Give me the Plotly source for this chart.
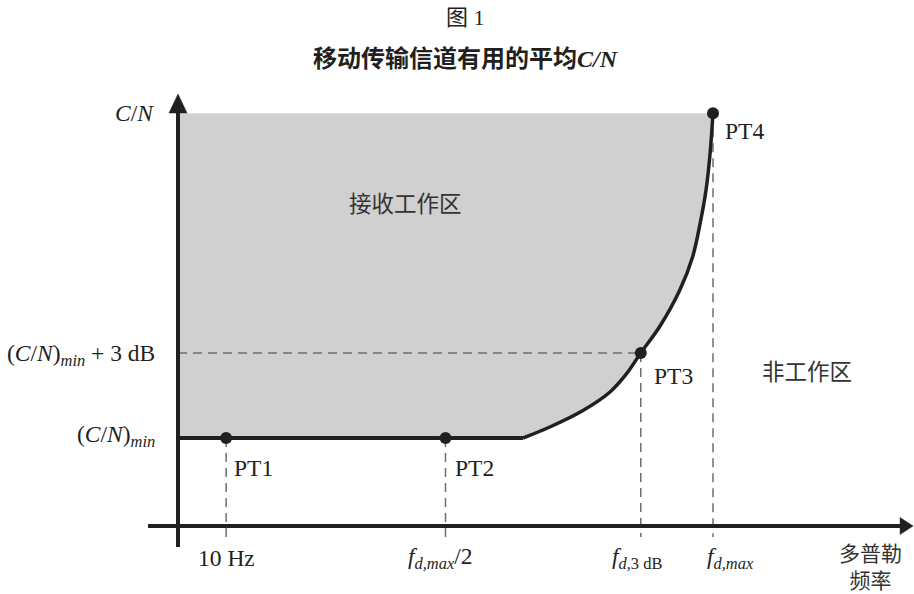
import plotly.graph_objects as go

# ---------------- data (conceptual units) ----------------
# x: Doppler frequency relative to f_d,max ; y: C/N in units of (C/N)min
tick_x = [0.09, 0.5, 0.865, 1.0]
tick_labels = ["10 Hz",
               "<i>f</i><sub><i>d,max</i></sub>/2",
               "<i>f</i><sub><i>d</i>,3 dB</sub>",
               "<i>f</i><sub><i>d,max</i></sub>"]
pt_names = ["PT1", "PT2", "PT3", "PT4"]
pt_x = [0.09, 0.5, 0.865, 1.0]
cn_min = 1.0
cn_3db = 1.966
cn_top = 4.69
pt_y = [cn_min, cn_min, cn_3db, cn_top]
curve_x = [0.645, 0.695, 0.757, 0.8075, 0.8374, 0.865, 0.901, 0.938, 0.962, 0.976, 0.987, 0.994, 1.0]
curve_y = [1.0, 1.125, 1.3125, 1.523, 1.722, 1.966, 2.273, 2.682, 3.060, 3.440, 3.818, 4.197, 4.69]
y_axis_label = "<i>C</i>/<i>N</i>"
level_labels = ["(<i>C</i>/<i>N</i>)<sub><i>min</i></sub>",
                "(<i>C</i>/<i>N</i>)<sub><i>min</i></sub> + 3 dB"]
x_axis_label = "多普勒<br>频率"
region_in = "接收工作区"
region_out = "非工作区"
title1 = "图 1"
title2 = "<b>移动传输信道有用的平均<i>C/N</i></b>"

# ---------------- styles ----------------
INK = "#231f20"
DASH = "#6d6e70"
FILL = "#d0d0d0"
CJK_INK = "#333333"
LATIN = "Liberation Serif, Noto Sans CJK SC, serif"
CJK = "Noto Sans CJK SC, sans-serif"
FS = 23.5
FS_CJK = 22.5

X_RANGE = [-0.3327, 1.3757]
Y_RANGE = [-0.7727, 5.977]
X_AXIS_START, X_AXIS_END = -0.056, 1.374
Y_AXIS_START, Y_AXIS_END = -0.24, 4.909

fig = go.Figure()

# gray operating region
fill_x = [0.0, curve_x[-1]] + curve_x[::-1] + [0.0, 0.0]
fill_y = [cn_top, cn_top] + curve_y[::-1] + [cn_min, cn_top]
fig.add_trace(go.Scatter(x=fill_x, y=fill_y, fill="toself", fillcolor=FILL,
                         line=dict(width=0), mode="lines", hoverinfo="skip"))

# dashed guide lines
fig.add_trace(go.Scatter(x=[0, pt_x[2]], y=[cn_3db, cn_3db], mode="lines",
                         line=dict(color=DASH, width=1.5, dash="9px,6px"), hoverinfo="skip"))
for i in range(4):
    fig.add_trace(go.Scatter(x=[pt_x[i], pt_x[i]], y=[pt_y[i], -0.125], mode="lines",
                             line=dict(color=DASH, width=1.5, dash="9px,6px"), hoverinfo="skip"))

# baseline (C/N)min and curve
fig.add_trace(go.Scatter(x=[0, curve_x[0]], y=[cn_min, cn_min], mode="lines",
                         line=dict(color=INK, width=4), hoverinfo="skip"))
fig.add_trace(go.Scatter(x=curve_x, y=curve_y, mode="lines",
                         line=dict(color=INK, width=3.5, shape="spline", smoothing=1),
                         hoverinfo="skip"))

# points
fig.add_trace(go.Scatter(x=pt_x, y=pt_y, mode="markers",
                         marker=dict(color=INK, size=12), hoverinfo="skip"))

shapes = [
    dict(type="line", x0=0, x1=0, y0=Y_AXIS_START, y1=cn_top + 0.003,
         line=dict(color=INK, width=4), layer="above"),
    dict(type="line", x0=X_AXIS_START, x1=X_AXIS_END - 0.024, y0=0, y1=0,
         line=dict(color=INK, width=4), layer="above"),
    dict(type="path", xref="x", yref="y", xsizemode="pixel", ysizemode="pixel",
         xanchor=0, yanchor=Y_AXIS_END, path="M-9,-19 L9,-19 L0,0 Z",
         fillcolor=INK, line=dict(color=INK, width=0.5), layer="above"),
    dict(type="path", xref="x", yref="y", xsizemode="pixel", ysizemode="pixel",
         xanchor=X_AXIS_END, yanchor=0, path="M-13,-8.5 L-13,8.5 L0,0 Z",
         fillcolor=INK, line=dict(color=INK, width=0.5), layer="above"),
]

ann = []
def A(**kw):
    base = dict(showarrow=False, xanchor="center", yanchor="middle",
                font=dict(family=LATIN, size=FS, color=INK))
    base.update(kw)
    ann.append(base)

# y labels
A(x=0, y=cn_top, text=y_axis_label, xanchor="right", xshift=-22)
A(x=0, y=cn_min, text=level_labels[0], xanchor="right", xshift=-21, yshift=2)
A(x=0, y=cn_3db, text=level_labels[1], xanchor="right", xshift=-21, yshift=-2)

# point labels
pt_off = [(6, -30), (7, -30), (11, -23), (10, -18)]
for name, x, y, (dx, dy) in zip(pt_names, pt_x, pt_y, pt_off):
    A(x=x, y=y, text=name, xanchor="left", xshift=dx, yshift=dy)

# tick labels
tick_shift = [0, -5, -4, 17]
for x, t, dx in zip(tick_x, tick_labels, tick_shift):
    A(x=x, y=0, text=t, xshift=dx, yshift=-32)

# region labels
A(x=0.426, y=3.68, text=region_in, font=dict(family=CJK, size=FS_CJK, color=CJK_INK))
A(x=1.176, y=1.773, text=region_out, font=dict(family=CJK, size=FS_CJK, color=CJK_INK))

# axis title (two lines)
A(xref="paper", yref="paper", x=870 / 914, y=1 - 565 / 594, text=x_axis_label,
  font=dict(family=CJK, size=21, color=CJK_INK), align="center")

# titles
A(xref="paper", yref="paper", x=466 / 914, y=1 - 18 / 594, text=title1,
  font=dict(family="Liberation Serif, Noto Sans CJK SC", size=22, color=INK))
A(xref="paper", yref="paper", x=466 / 914, y=1 - 59 / 594, text=title2,
  font=dict(family="Liberation Serif, Noto Sans CJK SC", size=24, color=INK))

fig.update_layout(
    width=914, height=594,
    margin=dict(l=0, r=0, t=0, b=0),
    paper_bgcolor="white", plot_bgcolor="white",
    showlegend=False,
    xaxis=dict(range=X_RANGE, visible=False, fixedrange=True),
    yaxis=dict(range=Y_RANGE, visible=False, fixedrange=True),
    shapes=shapes,
    annotations=ann,
)

fig.write_html("out.html", config={"displayModeBar": False},
               post_script="document.body.style.margin='0px';document.body.style.overflow='hidden';")
